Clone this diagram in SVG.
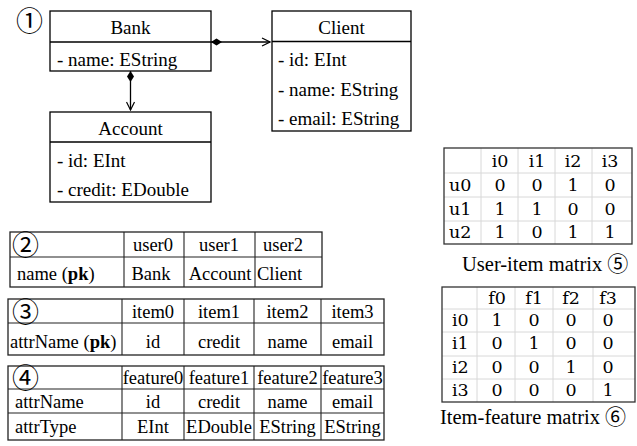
<svg xmlns="http://www.w3.org/2000/svg" width="637" height="446" viewBox="0 0 637 446" font-family="Liberation Serif">
<defs>
<style>
text{font-family:'Liberation Serif',serif;fill:#000;}
.u{font-size:19px;}
.t{font-size:18.5px;}
.m{font-size:17.5px;font-family:'DejaVu Serif','Liberation Serif',serif;}
.c{font-size:20.5px;}
.mid{text-anchor:middle;}
.circ{font-family:'Noto Sans CJK JP',sans-serif;font-size:27px;}
.circs{font-family:'Noto Sans CJK JP',sans-serif;font-size:21px;}
.box{fill:#fff;stroke:#000;stroke-width:1.3;}
.ln{stroke:#000;stroke-width:1.3;fill:none;}
.tb{fill:none;stroke:#222;stroke-width:1.3;}
.tl{stroke:#222;stroke-width:1.1;}
.grid{stroke:#d8d8d8;stroke-width:1;}
.mb{fill:none;stroke:#333;stroke-width:1.3;}
</style>
<marker id="dia" markerWidth="12" markerHeight="8" refX="0" refY="4" orient="auto" markerUnits="userSpaceOnUse">
<path d="M0,4 L5.5,0.5 L11,4 L5.5,7.5 Z" fill="#000"/>
</marker>
<marker id="arr" markerWidth="10" markerHeight="10" refX="9" refY="5" orient="auto" markerUnits="userSpaceOnUse">
<path d="M1,1 L9,5 L1,9" fill="none" stroke="#000" stroke-width="1.2"/>
</marker>
</defs>
<rect width="637" height="446" fill="#fff"/>

<text class="circ" x="16" y="31">①</text>

<g id="connectors">
<line class="ln" x1="211" y1="42" x2="270" y2="42" marker-start="url(#dia)" marker-end="url(#arr)"/>
<line class="ln" x1="130.5" y1="71" x2="130.5" y2="110" marker-start="url(#dia)" marker-end="url(#arr)"/>
</g>

<g id="bank">
<rect class="box" x="50" y="11" width="161" height="60"/>
<line class="ln" x1="50" y1="42" x2="211" y2="42"/>
<text class="u mid" x="130.5" y="34">Bank</text>
<text class="u" x="57" y="66">- name: EString</text>
</g>

<g id="client">
<rect class="box" x="272" y="11" width="139" height="120"/>
<line class="ln" x1="272" y1="41.5" x2="411" y2="41.5"/>
<text class="u mid" x="341.5" y="34">Client</text>
<text class="u" x="278" y="66">- id: EInt</text>
<text class="u" x="278" y="96">- name: EString</text>
<text class="u" x="278" y="125">- email: EString</text>
</g>

<g id="account">
<rect class="box" x="50" y="112" width="161" height="90"/>
<line class="ln" x1="50" y1="142" x2="211" y2="142"/>
<text class="u mid" x="130.5" y="135">Account</text>
<text class="u" x="57" y="167">- id: EInt</text>
<text class="u" x="57" y="196">- credit: EDouble</text>
</g>

<g id="table-users">
<rect class="tb" x="10" y="232" width="312" height="55"/>
<line class="tl" x1="10" y1="257" x2="322" y2="257"/>
<line class="tl" x1="124" y1="232" x2="124" y2="287"/>
<line class="tl" x1="184" y1="232" x2="184" y2="287"/>
<line class="tl" x1="255" y1="232" x2="255" y2="287"/>
<text class="circ" x="12" y="255">②</text>
<text class="t mid" x="153" y="251">user0</text>
<text class="t mid" x="219" y="251">user1</text>
<text class="t mid" x="283" y="251">user2</text>
<text class="t" x="17" y="280">name (<tspan font-weight="bold">pk</tspan>)</text>
<text class="t mid" x="151" y="280">Bank</text>
<text class="t mid" x="220" y="280">Account</text>
<text class="t" x="257" y="280">Client</text>
</g>

<g id="table-items">
<rect class="tb" x="8" y="299" width="376" height="56"/>
<line class="tl" x1="8" y1="323" x2="384" y2="323"/>
<line class="tl" x1="122" y1="299" x2="122" y2="355"/>
<line class="tl" x1="184" y1="299" x2="184" y2="355"/>
<line class="tl" x1="254" y1="299" x2="254" y2="355"/>
<line class="tl" x1="321" y1="299" x2="321" y2="355"/>
<text class="circ" x="12" y="322">③</text>
<text class="t mid" x="153" y="318">item0</text>
<text class="t mid" x="219" y="318">item1</text>
<text class="t mid" x="287.5" y="318">item2</text>
<text class="t mid" x="352.5" y="318">item3</text>
<text class="t" x="10" y="348">attrName (<tspan font-weight="bold">pk</tspan>)</text>
<text class="t mid" x="153" y="348">id</text>
<text class="t mid" x="219" y="348">credit</text>
<text class="t mid" x="287.5" y="348">name</text>
<text class="t mid" x="352.5" y="348">email</text>
</g>

<g id="table-features">
<rect class="tb" x="8" y="366" width="376" height="74"/>
<line class="tl" x1="8" y1="389" x2="384" y2="389"/>
<line class="tl" x1="8" y1="413" x2="384" y2="413"/>
<line class="tl" x1="122" y1="366" x2="122" y2="440"/>
<line class="tl" x1="184" y1="366" x2="184" y2="440"/>
<line class="tl" x1="254" y1="366" x2="254" y2="440"/>
<line class="tl" x1="321" y1="366" x2="321" y2="440"/>
<text class="circ" x="12" y="388">④</text>
<text class="t mid" x="153" y="384">feature0</text>
<text class="t mid" x="219" y="384">feature1</text>
<text class="t mid" x="287.5" y="384">feature2</text>
<text class="t mid" x="352.5" y="384">feature3</text>
<text class="t" x="15" y="408">attrName</text>
<text class="t mid" x="153" y="408">id</text>
<text class="t mid" x="219" y="408">credit</text>
<text class="t mid" x="287.5" y="408">name</text>
<text class="t mid" x="352.5" y="408">email</text>
<text class="t" x="15" y="433">attrType</text>
<text class="t mid" x="153" y="433">EInt</text>
<text class="t mid" x="219" y="433">EDouble</text>
<text class="t mid" x="287.5" y="433">EString</text>
<text class="t mid" x="352.5" y="433">EString</text>
</g>

<g id="user-item-matrix">
<line class="grid" x1="444" y1="173" x2="632" y2="173"/>
<line class="grid" x1="444" y1="197" x2="632" y2="197"/>
<line class="grid" x1="444" y1="221" x2="632" y2="221"/>
<line class="grid" x1="481" y1="148" x2="481" y2="244"/>
<line class="grid" x1="518" y1="148" x2="518" y2="244"/>
<line class="grid" x1="555" y1="148" x2="555" y2="244"/>
<line class="grid" x1="592" y1="148" x2="592" y2="244"/>
<rect class="mb" x="444" y="148" width="188" height="96"/>
<text class="m mid" x="500" y="167">i0</text>
<text class="m mid" x="537" y="167">i1</text>
<text class="m mid" x="573" y="167">i2</text>
<text class="m mid" x="610" y="167">i3</text>
<text class="m" x="449" y="191">u0</text>
<text class="m mid" x="500" y="191">0</text>
<text class="m mid" x="537" y="191">0</text>
<text class="m mid" x="573" y="191">1</text>
<text class="m mid" x="610" y="191">0</text>
<text class="m" x="449" y="215">u1</text>
<text class="m mid" x="500" y="215">1</text>
<text class="m mid" x="537" y="215">1</text>
<text class="m mid" x="573" y="215">0</text>
<text class="m mid" x="610" y="215">0</text>
<text class="m" x="449" y="238">u2</text>
<text class="m mid" x="500" y="238">1</text>
<text class="m mid" x="537" y="238">0</text>
<text class="m mid" x="573" y="238">1</text>
<text class="m mid" x="610" y="238">1</text>
<text class="c" x="462" y="271">User-item matrix <tspan class="circs">⑤</tspan></text>
</g>

<g id="item-feature-matrix">
<line class="grid" x1="442" y1="309" x2="635" y2="309"/>
<line class="grid" x1="442" y1="332" x2="635" y2="332"/>
<line class="grid" x1="442" y1="356" x2="635" y2="356"/>
<line class="grid" x1="442" y1="379" x2="635" y2="379"/>
<line class="grid" x1="477" y1="287" x2="477" y2="402"/>
<line class="grid" x1="515" y1="287" x2="515" y2="402"/>
<line class="grid" x1="553" y1="287" x2="553" y2="402"/>
<line class="grid" x1="593" y1="287" x2="593" y2="402"/>
<rect class="mb" x="442" y="287" width="193" height="115"/>
<text class="m mid" x="497" y="304">f0</text>
<text class="m mid" x="534" y="304">f1</text>
<text class="m mid" x="571" y="304">f2</text>
<text class="m mid" x="608" y="304">f3</text>
<text class="m" x="452" y="326">i0</text>
<text class="m mid" x="497" y="326">1</text>
<text class="m mid" x="534" y="326">0</text>
<text class="m mid" x="571" y="326">0</text>
<text class="m mid" x="608" y="326">0</text>
<text class="m" x="452" y="349">i1</text>
<text class="m mid" x="497" y="349">0</text>
<text class="m mid" x="534" y="349">1</text>
<text class="m mid" x="571" y="349">0</text>
<text class="m mid" x="608" y="349">0</text>
<text class="m" x="452" y="373">i2</text>
<text class="m mid" x="497" y="373">0</text>
<text class="m mid" x="534" y="373">0</text>
<text class="m mid" x="571" y="373">1</text>
<text class="m mid" x="608" y="373">0</text>
<text class="m" x="452" y="396">i3</text>
<text class="m mid" x="497" y="396">0</text>
<text class="m mid" x="534" y="396">0</text>
<text class="m mid" x="571" y="396">0</text>
<text class="m mid" x="608" y="396">1</text>
<text class="c" x="440" y="424">Item-feature matrix <tspan class="circs">⑥</tspan></text>
</g>
</svg>
